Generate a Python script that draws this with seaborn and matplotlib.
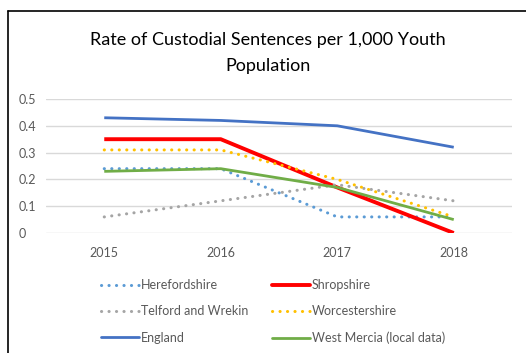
import matplotlib
matplotlib.use("Agg")
import matplotlib.pyplot as plt
from matplotlib.lines import Line2D
import seaborn as sns
import pandas as pd

years = ["2015", "2016", "2017", "2018"]
herefordshire = [0.24, 0.24, 0.06, 0.06]
shropshire = [0.35, 0.35, 0.17, 0.0]
telford = [0.06, 0.12, 0.18, 0.12]
worcestershire = [0.31, 0.31, 0.20, 0.06]
england = [0.43, 0.42, 0.40, 0.32]
west_mercia = [0.23, 0.24, 0.17, 0.05]
yticks = [0, 0.1, 0.2, 0.3, 0.4, 0.5]
ytick_labels = ["0", "0.1", "0.2", "0.3", "0.4", "0.5"]
title = "Rate of Custodial Sentences per 1,000 Youth\nPopulation"

sns.set_theme(style="white")
plt.rcParams['font.family'] = ['Lato', 'DejaVu Sans']

series = [
    ("Herefordshire", herefordshire, "#5B9BD5", "dot", 2.2),
    ("Shropshire", shropshire, "#FF0000", "solid", 2.8),
    ("Telford and Wrekin", telford, "#A5A5A5", "dot", 2.2),
    ("Worcestershire", worcestershire, "#FFC000", "dot", 2.2),
    ("England", england, "#4472C4", "solid", 2.0),
    ("West Mercia (local data)", west_mercia, "#70AD47", "solid", 2.0),
]

fig = plt.figure(figsize=(5.26, 3.53), dpi=100)
ax = fig.add_axes([46/526, 1-233/353, (512-46)/526, (233-99)/353])

handles = {}
for name, vals, color, style, lw in series:
    df = pd.DataFrame({"x": range(len(years)), "y": vals})
    ls = (0, (0.05, 2.4)) if style == "dot" else "-"
    sns.lineplot(data=df, x="x", y="y", ax=ax, color=color, linewidth=lw,
                 linestyle=ls, legend=False, zorder=3)
    line = ax.lines[-1]
    line.set_dash_capstyle("round")
    line.set_solid_capstyle("butt")
    h = Line2D([0], [0], color=color, linewidth=lw, linestyle=ls,
               dash_capstyle="round")
    handles[name] = h

ax.set_xlim(-0.5, 3.5)
ax.set_ylim(0, 0.5)
ax.set_xticks(range(len(years)))
ax.set_xticklabels(years)
ax.set_yticks(yticks)
ax.set_yticklabels(ytick_labels)
ax.set_xlabel("")
ax.set_ylabel("")
for s in ax.spines.values():
    s.set_visible(False)
ax.yaxis.grid(True, color="#D9D9D9", linewidth=1)
ax.set_axisbelow(True)
ax.tick_params(axis="both", colors="#595959", labelsize=9, length=0)
ax.tick_params(axis="x", pad=10)
ax.tick_params(axis="y", pad=20)
for lab in ax.get_yticklabels():
    lab.set_horizontalalignment("left")

fig.text(268/526, 1-53/353, title, ha="center", va="center", fontsize=13,
         color="#000000", linespacing=1.75)

order = ["Herefordshire", "Telford and Wrekin", "England",
         "Shropshire", "Worcestershire", "West Mercia (local data)"]
leg = fig.legend([handles[n] for n in order], order, ncol=2,
                 loc="upper left", bbox_to_anchor=(91/526, 1-269/353),
                 frameon=False, fontsize=9, handlelength=3.0,
                 handletextpad=0.2, columnspacing=1.9, labelspacing=1.15,
                 borderpad=0.3)
for t in leg.get_texts():
    t.set_color("#595959")

fig.add_artist(Line2D([8/526, 8/526], [0, 1-11/353], color="black", linewidth=1.2,
                      transform=fig.transFigure))
fig.add_artist(Line2D([8/526, 1], [1-11/353, 1-11/353], color="black", linewidth=1.2,
                      transform=fig.transFigure))

fig.savefig("out.png", dpi=100)
